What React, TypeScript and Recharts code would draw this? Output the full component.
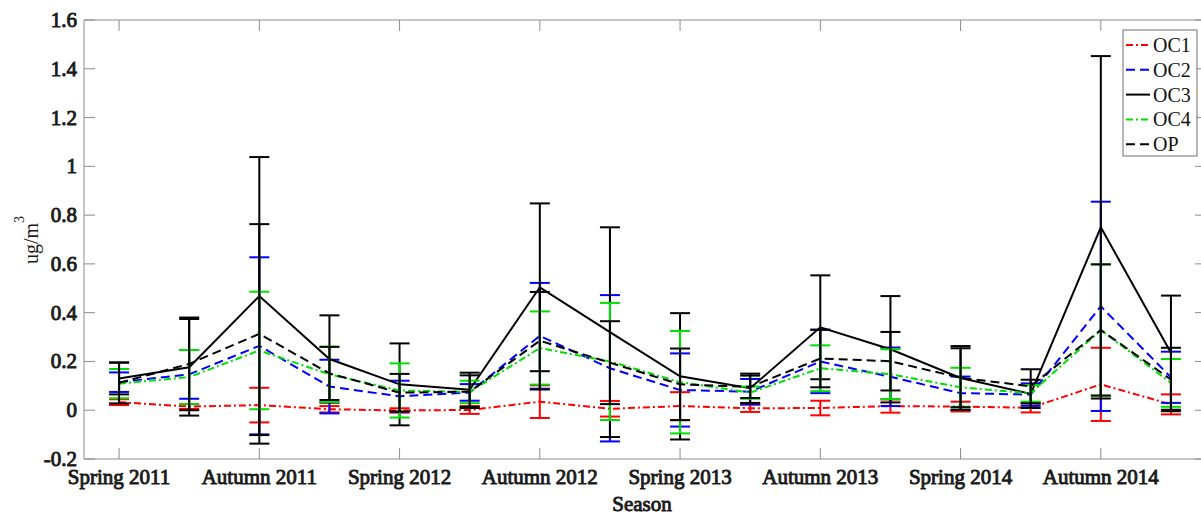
import React from 'react';
import { LineChart, Line, XAxis, YAxis, ErrorBar, Label } from 'recharts';

const seasons = [
  'Spring 2011', 'Summer 2011', 'Autumn 2011', 'Winter 2011',
  'Spring 2012', 'Summer 2012', 'Autumn 2012', 'Winter 2012',
  'Spring 2013', 'Summer 2013', 'Autumn 2013', 'Winter 2013',
  'Spring 2014', 'Summer 2014', 'Autumn 2014', 'Winter 2014',
];
const xTicks = [0, 2, 4, 6, 8, 10, 12, 14];
const yTicks = [-0.2, 0, 0.2, 0.4, 0.6, 0.8, 1, 1.2, 1.4, 1.6];

const oc1 = [0.033, 0.015, 0.021, 0.004, -0.001, 0.001, 0.035, 0.006, 0.017, 0.008, 0.009, 0.017, 0.015, 0.01, 0.106, 0.024];
const oc1Err = [0.012, 0.01, 0.071, 0.013, 0.009, 0.016, 0.067, 0.032, 0.057, 0.015, 0.03, 0.027, 0.02, 0.019, 0.15, 0.041];
const oc2 = [0.115, 0.147, 0.264, 0.097, 0.057, 0.073, 0.305, 0.172, 0.083, 0.076, 0.2, 0.137, 0.07, 0.064, 0.426, 0.135];
const oc2Err = [0.04, 0.1, 0.363, 0.11, 0.064, 0.034, 0.217, 0.3, 0.15, 0.052, 0.13, 0.12, 0.068, 0.046, 0.429, 0.105];
const oc3 = [0.13, 0.176, 0.468, 0.21, 0.106, 0.084, 0.504, 0.32, 0.139, 0.09, 0.34, 0.25, 0.132, 0.067, 0.75, 0.236];
const oc3Err = [0.065, 0.198, 0.57, 0.179, 0.168, 0.07, 0.344, 0.43, 0.259, 0.06, 0.213, 0.218, 0.131, 0.058, 0.702, 0.234];
const oc4 = [0.109, 0.136, 0.245, 0.147, 0.081, 0.075, 0.255, 0.2, 0.115, 0.072, 0.172, 0.148, 0.094, 0.069, 0.329, 0.112];
const oc4Err = [0.06, 0.111, 0.241, 0.113, 0.111, 0.046, 0.15, 0.24, 0.21, 0.025, 0.094, 0.102, 0.08, 0.034, 0.269, 0.098];
const op = [0.112, 0.19, 0.313, 0.151, 0.072, 0.076, 0.285, 0.195, 0.106, 0.096, 0.212, 0.201, 0.133, 0.098, 0.329, 0.126];
const opErr = [0.084, 0.19, 0.45, 0.109, 0.077, 0.067, 0.2, 0.17, 0.147, 0.046, 0.118, 0.12, 0.121, 0.07, 0.269, 0.13];

const data = seasons.map((s, i) => ({
  x: i,
  season: s,
  oc1: oc1[i], oc1Err: oc1Err[i],
  oc2: oc2[i], oc2Err: oc2Err[i],
  oc3: oc3[i], oc3Err: oc3Err[i],
  oc4: oc4[i], oc4Err: oc4Err[i],
  op: op[i], opErr: opErr[i],
}));

const FONT = '"Liberation Serif", "Times New Roman", serif';
const AXIS = '#8c8c8c';
const TICK_LEN = 11;
const TXT = '#1a1a1a';
const boldStyle = { fontFamily: FONT, fontWeight: 400 as const };
const BOLD_SIZE = 21;

const series = [
  { key: 'oc1', name: 'OC1', color: '#ff0000', dash: '7 3 2 3' },
  { key: 'oc2', name: 'OC2', color: '#0000ff', dash: '9 5' },
  { key: 'oc3', name: 'OC3', color: '#000000', dash: undefined },
  { key: 'oc4', name: 'OC4', color: '#00e000', dash: '7 3 2 3' },
  { key: 'op', name: 'OP', color: '#000000', dash: '9 5' },
];

const fmtY = (v: number) => (Math.abs(v) < 1e-9 ? '0' : String(+v.toFixed(1)));

const BottomTick = (props: any) => {
  const { x, y, payload } = props;
  return (
    <g>
      <line x1={x} y1={y} x2={x} y2={y - TICK_LEN} stroke={AXIS} strokeWidth={1} />
      <text x={x} y={y + 25} textAnchor="middle" style={boldStyle} fontSize={BOLD_SIZE} fill={TXT} stroke={TXT} strokeWidth={0.9}>
        {seasons[payload.value]}
      </text>
    </g>
  );
};

const TopTick = (props: any) => {
  const { x, y } = props;
  return <line x1={x} y1={y} x2={x} y2={y + TICK_LEN} stroke={AXIS} strokeWidth={1} />;
};

const LeftTick = (props: any) => {
  const { x, y, payload } = props;
  return (
    <g>
      <line x1={x} y1={y} x2={x + TICK_LEN} y2={y} stroke={AXIS} strokeWidth={1} />
      <text x={x - 7} y={y + 7} textAnchor="end" style={boldStyle} fontSize={BOLD_SIZE} fill={TXT} stroke={TXT} strokeWidth={0.9}>
        {fmtY(payload.value)}
      </text>
    </g>
  );
};

const RightTick = (props: any) => {
  const { x, y } = props;
  return <line x1={x} y1={y} x2={x - TICK_LEN} y2={y} stroke={AXIS} strokeWidth={1} />;
};

const YLabel = () => (
  <text
    x={38}
    y={240}
    textAnchor="middle"
    transform="rotate(-90, 38, 240)"
    style={{ fontFamily: FONT }}
    fontSize={20}
    fill={TXT}
  >
    ug/m<tspan fontSize={14} dy={-14}>3</tspan>
  </text>
);

const XLabel = () => (
  <text x={642} y={511} textAnchor="middle" style={boldStyle} fontSize={BOLD_SIZE} fill={TXT} stroke={TXT} strokeWidth={0.9}>
    Season
  </text>
);

const LegendBox = () => (
  <svg width={76} height={128} style={{ position: 'absolute', left: 1122, top: 29 }}>
    <rect x={1} y={1} width={74} height={126} fill="#ffffff" stroke="#6e6e6e" strokeWidth={1} />
    {series.map((s, i) => {
      const cy = 16 + i * 24.8;
      return (
        <g key={s.key}>
          <line x1={4} y1={cy} x2={28} y2={cy} stroke={s.color} strokeWidth={2} strokeDasharray={s.dash} />
          <text x={31} y={cy + 7} style={{ fontFamily: FONT }} fontSize={20} fill="#111">
            {s.name}
          </text>
        </g>
      );
    })}
  </svg>
);

export default function App() {
  return (
    <div style={{ position: 'absolute', left: 0, top: 0, width: 1201, height: 516, overflow: 'hidden', background: '#fff' }}>
      <LineChart width={1208} height={516} data={data} margin={{ top: 0, right: 0, bottom: 0, left: 0 }}>
        <XAxis
          dataKey="x"
          type="number"
          domain={[-0.5, 15.5]}
          ticks={xTicks}
          interval={0}
          allowDataOverflow
          height={57}
          tickSize={0}
          tickMargin={0}
          tickLine={false}
          axisLine={{ stroke: AXIS, strokeWidth: 1 }}
          tick={BottomTick}
        >
          <Label content={XLabel} />
        </XAxis>
        <XAxis
          xAxisId="top"
          orientation="top"
          dataKey="x"
          type="number"
          domain={[-0.5, 15.5]}
          ticks={xTicks}
          interval={0}
          allowDataOverflow
          height={20}
          tickSize={0}
          tickMargin={0}
          tickLine={false}
          axisLine={{ stroke: AXIS, strokeWidth: 1 }}
          tick={TopTick}
        />
        <YAxis
          type="number"
          domain={[-0.2, 1.6]}
          ticks={yTicks}
          interval={0}
          allowDataOverflow
          width={84}
          tickSize={0}
          tickMargin={0}
          tickLine={false}
          axisLine={{ stroke: AXIS, strokeWidth: 1 }}
          tick={LeftTick}
        >
          <Label content={YLabel} />
        </YAxis>
        <YAxis
          yAxisId="right"
          orientation="right"
          type="number"
          domain={[-0.2, 1.6]}
          ticks={yTicks}
          interval={0}
          allowDataOverflow
          width={2}
          tickSize={0}
          tickMargin={0}
          tickLine={false}
          axisLine={{ stroke: AXIS, strokeWidth: 1 }}
          tick={RightTick}
        />
        {series.map((s) => (
          <Line
            key={s.key}
            dataKey={s.key}
            name={s.name}
            stroke={s.color}
            strokeWidth={2}
            strokeDasharray={s.dash}
            dot={false}
            activeDot={false}
            isAnimationActive={false}
            type="linear"
          >
            <ErrorBar
              dataKey={`${s.key}Err`}
              direction="y"
              width={10}
              stroke={s.color}
              strokeWidth={2}
              isAnimationActive={false}
            />
          </Line>
        ))}
      </LineChart>
      <LegendBox />
    </div>
  );
}
